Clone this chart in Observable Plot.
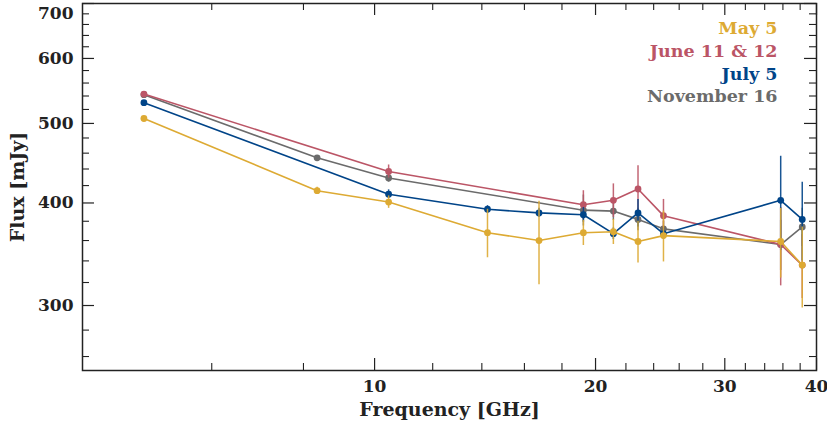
<!DOCTYPE html>
<html>
<head>
<meta charset="utf-8">
<script src="https://cdn.jsdelivr.net/npm/d3@7"></script>
<script src="https://cdn.jsdelivr.net/npm/@observablehq/plot@0.6"></script>
<style>
  html, body { margin: 0; padding: 0; background: #fff; }
</style>
</head>
<body>
<div id="chart"></div>
<script>
// ---- data ----
const seriesNames = ["May 5", "June 11 & 12", "July 5", "November 16"];
const seriesColors = ["#DDAA33", "#BB5566", "#004488", "#6B6B6B"];

const mayFreq = [4.85, 8.35, 10.45, 14.25, 16.75, 19.25, 21.15, 22.85, 24.75, 35.75, 38.25];
const mayFlux = [507, 414, 401, 368, 360, 368, 369, 359, 365, 359, 336];
const mayErr  = [3, 4, 7, 25, 42, 13, 13, 21, 26, 35, 38];

const juneFreq = [4.85, 10.45, 19.25, 21.15, 22.85, 24.75, 35.75, 38.25];
const juneFlux = [543, 437, 398, 403, 416, 386, 356, 336];
const juneErr  = [3, 8, 16, 19, 28, 18, 39, 30];

const julyFreq = [4.85, 10.45, 14.25, 16.75, 19.25, 21.15, 22.85, 24.75, 35.75, 38.25];
const julyFlux = [530, 410, 393, 389, 387, 367, 389, 367, 403, 382];
const julyErr  = [3, 5, 4, 5, 8, 6, 15, 6, 53, 42];

const novFreq = [4.85, 8.35, 10.45, 19.25, 21.15, 22.85, 24.75, 35.75, 38.25];
const novFlux = [542, 454, 429, 392, 391, 382, 372, 356, 374];
const novErr  = [3, 3, 5, 17, 10, 12, 8, 25, 20];

const xMajorTicks = [10, 20, 30, 40];
const xMinorTicks = [6, 8, 12, 14, 16, 18, 22, 24, 26, 28, 32, 34, 36, 38];
const yMajorTicks = [300, 400, 500, 600, 700];
const yLabelTicks = [300, 400, 500, 600];
const yTopLabel = [700];
const yMinorTicks = [260, 280, 320, 340, 360, 380, 420, 440, 460, 480, 520, 540, 560, 580, 620, 640, 660, 680];

// ---- build tables ----
function build(name, fr, fl, er) {
  return fr.map((f, i) => ({series: name, freq: f, flux: fl[i], err: er[i]}));
}
const tables = [
  build(seriesNames[0], mayFreq, mayFlux, mayErr),
  build(seriesNames[1], juneFreq, juneFlux, juneErr),
  build(seriesNames[2], julyFreq, julyFlux, julyErr),
  build(seriesNames[3], novFreq, novFlux, novErr)
];
const drawOrder = [3, 1, 2, 0];

const W = 827, H = 428;
const mL = 82, mR = 11, mT = 3, mB = 58;
const fw = W - mL - mR, fh = H - mT - mB;
const tickStroke = "#222";

const marks = [];
// data
for (const i of drawOrder) {
  const t = tables[i], c = seriesColors[i];
  marks.push(Plot.ruleX(t, {x: "freq", y1: d => d.flux - d.err, y2: d => d.flux + d.err, stroke: c, strokeWidth: 1.5, strokeOpacity: 0.9}));
  marks.push(Plot.line(t, {x: "freq", y: "flux", stroke: c, strokeWidth: 1.6}));
  marks.push(Plot.dot(t, {x: "freq", y: "flux", fill: c, r: 3.4}));
}
// ticks (inward, all four sides)
marks.push(Plot.tickX(xMajorTicks, {x: d => d, insetTop: fh - 12, stroke: tickStroke, strokeWidth: 1.2}));
marks.push(Plot.tickX(xMajorTicks, {x: d => d, insetBottom: fh - 12, stroke: tickStroke, strokeWidth: 1.2}));
marks.push(Plot.tickX(xMinorTicks, {x: d => d, insetTop: fh - 7, stroke: tickStroke, strokeWidth: 1.1}));
marks.push(Plot.tickX(xMinorTicks, {x: d => d, insetBottom: fh - 7, stroke: tickStroke, strokeWidth: 1.1}));
marks.push(Plot.tickY(yMajorTicks, {y: d => d, insetRight: fw - 12, stroke: tickStroke, strokeWidth: 1.2}));
marks.push(Plot.tickY(yMajorTicks, {y: d => d, insetLeft: fw - 12, stroke: tickStroke, strokeWidth: 1.2}));
marks.push(Plot.tickY(yMinorTicks, {y: d => d, insetRight: fw - 7, stroke: tickStroke, strokeWidth: 1.1}));
marks.push(Plot.tickY(yMinorTicks, {y: d => d, insetLeft: fw - 7, stroke: tickStroke, strokeWidth: 1.1}));
marks.push(Plot.frame({stroke: tickStroke, strokeWidth: 1.5}));
// tick labels
marks.push(Plot.axisX({ticks: xMajorTicks, tickSize: 0, tickPadding: 9, tickFormat: d => String(d), label: null, fill: "#222"}));
marks.push(Plot.axisY({ticks: yLabelTicks, tickSize: 0, tickPadding: 9, tickFormat: d => String(d), label: null, fill: "#222"}));
marks.push(Plot.text(yTopLabel, {y: d => d, frameAnchor: "left", dx: -9, dy: 10, textAnchor: "end", lineAnchor: "middle", text: d => String(d), fill: "#222"}));
// axis titles
marks.push(Plot.text(["Frequency [GHz]"], {frameAnchor: "bottom", dy: 39, textAnchor: "middle", lineAnchor: "middle", fontSize: 19, text: d => d, fill: "#222"}));
marks.push(Plot.text(["Flux [mJy]"], {frameAnchor: "left", dx: -65, rotate: -90, textAnchor: "middle", lineAnchor: "middle", fontSize: 19, text: d => d, fill: "#222"}));
// legend
seriesNames.forEach((n, i) => {
  marks.push(Plot.text([n], {frameAnchor: "top-right", dx: -39, dy: 25 + i * 22.7, textAnchor: "end", lineAnchor: "middle", fontSize: 17.5, text: d => d, fill: seriesColors[i]}));
});

const chart = Plot.plot({
  width: W, height: H,
  marginLeft: mL, marginRight: mR, marginTop: mT, marginBottom: mB,
  x: {type: "log", domain: [4, 40], axis: null},
  y: {type: "log", domain: [250, 700], axis: null},
  style: {fontFamily: "'DejaVu Serif', serif", fontWeight: "bold", fontSize: "17px", background: "#fff", overflow: "visible"},
  marks
});
document.getElementById("chart").appendChild(chart);
</script>
</body>
</html>
